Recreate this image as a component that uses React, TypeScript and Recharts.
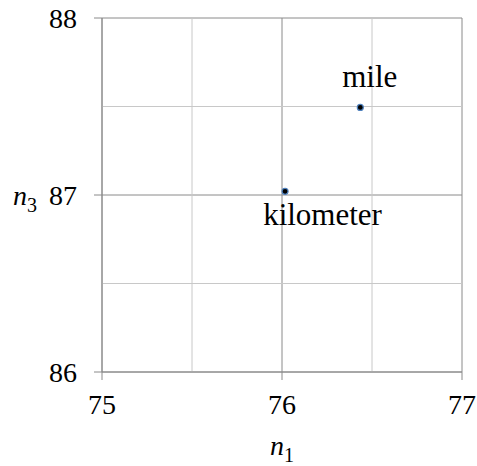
import {
  ScatterChart,
  Scatter,
  XAxis,
  YAxis,
  CartesianGrid,
  ReferenceLine,
  LabelList,
  Label,
} from 'recharts'

// categories and values
const names = ['mile', 'kilometer']
const n1Values = [76.435, 76.017]
const n3Values = [87.495, 87.021]

// tick values
const xTicks = [75, 76, 77]
const yTicks = [86, 87, 88]
const xMinor = [75.5, 76.5]
const yMinor = [86.5, 87.5]

const data = names.map((name, i) => ({ name, x: n1Values[i], y: n3Values[i] }))

const FONT = 'Liberation Serif, Times New Roman, serif'
const MAJOR = '#8a8a8a'
const MINOR = '#c8c8c8'

// label offsets relative to each point (styling only)
const labelOffset: Record<string, { dx: number; dy: number }> = {
  mile: { dx: 14, dy: -16 },
  kilometer: { dx: 42, dy: 38 },
}

const PointLabel = (props: any) => {
  const { x, y, value } = props
  const off = labelOffset[value] || { dx: 0, dy: 0 }
  return (
    <text
      x={x + off.dx}
      y={y + off.dy}
      textAnchor="middle"
      fontFamily={FONT}
      fontSize={31}
      fill="#000"
    >
      {value}
    </text>
  )
}

const Dot = (props: any) => {
  const { cx, cy } = props
  return <circle cx={cx} cy={cy} r={3} fill="#000" stroke="#4f81bd" strokeWidth={1.2} />
}

export default function App() {
  return (
    <div style={{ position: 'absolute', left: 0, top: 0, background: '#fff' }}>
      <ScatterChart
        width={477}
        height={466}
        margin={{ top: 18, right: 15, left: 0, bottom: 0 }}
      >
        {/* major grid */}
        <CartesianGrid stroke={MAJOR} strokeWidth={1} />

        {/* minor grid */}
        {xMinor.map((v) => (
          <ReferenceLine key={'x' + v} x={v} stroke={MINOR} strokeWidth={1} />
        ))}
        {yMinor.map((v) => (
          <ReferenceLine key={'y' + v} y={v} stroke={MINOR} strokeWidth={1} />
        ))}

        <XAxis
          type="number"
          dataKey="x"
          domain={[75, 77]}
          ticks={xTicks}
          interval={0}
          height={94}
          stroke={MAJOR}
          tickSize={8}
          tickMargin={14}
          tick={{ fill: '#000', fontSize: 28, fontFamily: FONT }}
        >
          <Label
            content={(p: any) => {
              const vb = p.viewBox
              return (
                <text
                  x={vb.x + vb.width / 2}
                  y={vb.y + 83}
                  textAnchor="middle"
                  fontFamily={FONT}
                  fill="#000"
                >
                  <tspan fontStyle="italic" fontSize={28}>n</tspan>
                  <tspan fontSize={20} dy={7}>1</tspan>
                </text>
              )
            }}
          />
        </XAxis>

        <YAxis
          type="number"
          dataKey="y"
          domain={[86, 88]}
          ticks={yTicks}
          interval={0}
          width={102}
          stroke={MAJOR}
          tickSize={8}
          tickMargin={17}
          tick={{ fill: '#000', fontSize: 28, fontFamily: FONT }}
        >
          <Label
            content={(p: any) => {
              const vb = p.viewBox
              return (
                <text
                  x={13}
                  y={vb.y + vb.height / 2 + 10}
                  textAnchor="start"
                  fontFamily={FONT}
                  fill="#000"
                >
                  <tspan fontStyle="italic" fontSize={28}>n</tspan>
                  <tspan fontSize={20} dy={7}>3</tspan>
                </text>
              )
            }}
          />
        </YAxis>

        <Scatter data={data} shape={<Dot />} isAnimationActive={false}>
          <LabelList dataKey="name" content={<PointLabel />} />
        </Scatter>
      </ScatterChart>
    </div>
  )
}
